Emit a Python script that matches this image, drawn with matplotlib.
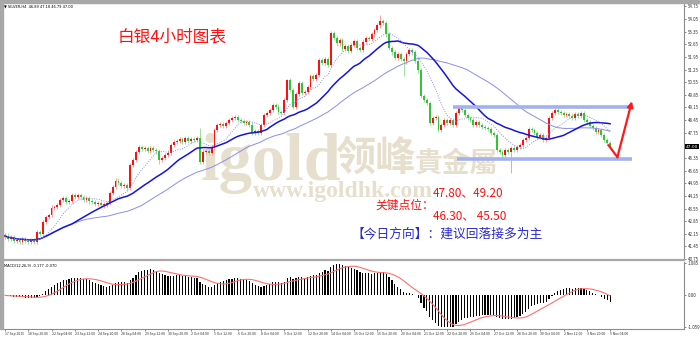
import numpy as np
import pandas as pd
import matplotlib
matplotlib.use("Agg")
import matplotlib.pyplot as plt
from matplotlib.patches import Rectangle

plt.rcParams['font.family'] = ['Noto Sans CJK SC', 'DejaVu Sans']

# 4-hour closes (open = previous close)
closes = [
    42.05, 41.85, 41.95, 41.75, 41.80, 41.70, 41.85, 41.75, 41.70, 41.80, 41.72,
    42.25, 42.15, 42.80, 43.10, 43.20, 43.60, 43.65, 43.75, 44.02, 44.13, 43.90, 43.98, 44.30, 44.20, 44.32,
    44.20, 44.05, 44.15, 43.95, 43.90, 43.80, 43.85, 43.72, 43.78, 43.85, 44.40, 44.75, 45.10, 44.95, 44.80, 44.85, 44.70,
    45.95, 46.24, 46.70, 46.96, 46.85, 46.90, 46.75, 46.88, 46.80, 46.72, 46.24, 46.35, 46.51, 46.65, 47.07, 47.24, 47.30,
    47.40, 47.22, 47.45, 47.30, 47.38, 47.35, 47.46, 46.13, 46.69, 46.75, 46.62, 46.95, 47.90, 48.18, 48.25, 48.15, 48.30, 48.46, 48.57,
    48.62, 48.45, 48.40, 48.30, 48.35, 48.20, 47.74, 47.85, 47.74, 48.18, 48.74, 48.85, 49.01, 49.29, 49.20, 48.90, 48.85,
    49.57, 50.68, 50.12, 49.20, 49.90, 50.50, 49.95, 50.00, 50.30, 50.90, 50.75, 50.95, 51.78, 51.60, 51.85, 51.50,
    53.28, 53.00, 52.70, 52.90, 52.40, 52.55, 52.30, 52.60, 52.85, 52.45, 52.35, 52.80, 53.00, 52.95, 53.20, 53.45, 53.70, 53.95, 53.85,
    53.20, 52.45, 52.20, 51.90, 52.10, 51.85, 51.70, 52.10, 52.35, 52.20, 51.75, 51.20, 49.80, 49.55, 49.40,
    48.29, 48.57, 48.62, 47.91, 48.18, 48.46, 48.29, 48.46, 48.18, 48.85, 49.12, 49.01, 48.74, 48.57, 48.46, 48.18, 48.35, 48.18, 48.07, 48.02, 47.95,
    47.74, 47.63, 46.80, 46.69, 46.52, 46.80, 46.69, 46.91, 46.80, 46.96, 47.07, 47.35, 47.46, 47.96, 47.91, 47.74, 47.52, 47.63, 47.35, 47.46, 48.57,
    48.85, 49.01, 48.90, 48.85, 48.74, 48.79, 48.70, 48.57, 48.79, 48.68, 48.85, 48.46, 48.35, 48.13, 48.02, 47.79, 47.91, 47.63, 47.35, 47.18, 47.00,
]
first_open = 42.00
# long shadows that stand out
long_highs = {67: 48.02, 97: 50.75, 112: 53.40, 129: 54.28, 190: 49.23}
long_lows = {53: 46.00, 137: 50.90, 174: 45.52}
wick = 0.12

date_labels = ['17 Sep 2015', '18 Sep 20:00', '22 Sep 04:00', '23 Sep 12:00', '24 Sep 20:00', '28 Sep 04:00',
               '29 Sep 12:00', '30 Sep 20:00', '2 Oct 04:00', '5 Oct 12:00', '6 Oct 20:00', '8 Oct 04:00',
               '9 Oct 12:00', '12 Oct 20:00', '14 Oct 04:00', '15 Oct 12:00', '16 Oct 20:00', '20 Oct 04:00',
               '21 Oct 12:00', '22 Oct 20:00', '26 Oct 04:00', '27 Oct 12:00', '28 Oct 20:00', '30 Oct 04:00',
               '2 Nov 12:00', '3 Nov 20:00', '5 Nov 04:00']
price_ticks = [54.75, 54.05, 53.35, 52.65, 51.95, 51.25, 50.55, 49.85, 49.15, 48.45, 47.75,
               46.35, 45.65, 44.95, 44.25, 43.55, 42.85, 42.15, 41.45, 40.75]
last_price = '47.00'
macd_ticks = [1.085, 0.0, -1.059]
macd_labels = ['1.085', '0.00', '-1.059']

levels = [49.20, 46.30]
level_start = [154, 155.5]
level_end = 215.5
arrow_bars = [207.5, 210.5, 215.5]
arrow_prices = [47.05, 46.40, 49.50]

# ---- derived series ----
c = np.array(closes)
o = np.concatenate([[first_open], c[:-1]])
n = len(c)
idx = np.arange(n)
hi = np.maximum(o, c) + wick
lo = np.minimum(o, c) - wick
for k, v in long_highs.items():
    hi[k] = v
for k, v in long_lows.items():
    lo[k] = v
s = pd.Series(c)
ma_fast = s.rolling(10, min_periods=1).mean()
ma_mid = s.rolling(24, min_periods=1).mean()
ma_slow = s.rolling(48, min_periods=1).mean()
macd = s.ewm(span=12, adjust=False).mean() - s.ewm(span=26, adjust=False).mean()
signal = macd.rolling(9, min_periods=1).mean()


def fx(px):
    return px / 700


def fy(py):
    return 1 - py / 338


fig = plt.figure(figsize=(7, 3.38), dpi=100)
fig.patch.set_facecolor('white')
fig.patches.append(Rectangle((0, fy(3)), 1, 3 / 338, transform=fig.transFigure, color='#a8a8a8', zorder=0))
fig.patches.append(Rectangle((0, fy(329)), 3 / 700, 326 / 338, transform=fig.transFigure, color='#a8a8a8', zorder=0))

ax = fig.add_axes([fx(3), fy(260), 681 / 700, 257 / 338])
ax2 = fig.add_axes([fx(3), fy(329), 681 / 700, 67 / 338])

# watermark behind the candles
wm = '#e6dfcd'
ax.text(fx(200), fy(180), 'igold', transform=fig.transFigure, fontsize=48, family='Liberation Serif',
        weight='bold', color=wm, va='baseline', ha='left', zorder=0)
ax.text(fx(253), fy(197), 'www.igoldhk.com', transform=fig.transFigure, fontsize=17, family='Liberation Serif',
        weight='bold', color=wm, va='baseline', ha='left', zorder=0)
ax.text(fx(376), fy(158), '领峰', transform=fig.transFigure, fontsize=29, family='Noto Sans CJK SC',
        weight='bold', color=wm, va='center', ha='center', zorder=0)
ax.text(fx(415), fy(164), '貴金屬', transform=fig.transFigure, fontsize=20, family='Noto Sans CJK TC',
        weight='bold', color=wm, va='center', ha='left', zorder=0)

# candles
up = c >= o
ax.vlines(idx, lo, hi, colors=np.where(up, '#ff8c8c', '#8fd88f'), linewidth=0.6, zorder=2)
body = np.where(np.abs(c - o) < 0.02, 0.02, c - o)
ax.bar(idx, body, bottom=o, width=0.65, color=np.where(up, '#ff1010', '#33c433'), linewidth=0, zorder=3)

ax.plot(idx, ma_slow, color='#8c8cf2', linewidth=0.7, zorder=4)
ax.plot(idx, ma_mid, color='#1414e0', linewidth=1.1, zorder=4)
ax.plot(idx, ma_fast, color='#8c8cf2', linewidth=0.7, linestyle=(0, (1, 1.5)), zorder=4)

for lv, st in zip(levels, level_start):
    ax.plot([st, level_end], [lv, lv], color='#a3b1f0', linewidth=2.6, solid_capstyle='butt', zorder=5)
ax.plot(arrow_bars[:2], arrow_prices[:2], color='#ff1a1a', linewidth=1.6, zorder=6)
ax.annotate('', xy=(arrow_bars[2], arrow_prices[2]), xytext=(arrow_bars[1], arrow_prices[1]),
            arrowprops=dict(arrowstyle='-|>', color='#ff1a1a', lw=1.6, mutation_scale=8,
                            shrinkA=0, shrinkB=0), zorder=6)

ax.set_xlim(-0.69, 233.4)
ax.set_ylim(40.70, 54.94)
ax.set_xticks([])
ax.yaxis.tick_right()
ax.set_yticks(price_ticks)
ax.set_yticklabels([f'{t:.2f}' for t in price_ticks])
ax.tick_params(axis='y', labelsize=3.2, length=1.5, width=0.4, pad=1, colors='#303030')
for side in ['top', 'left']:
    ax.spines[side].set_visible(False)
ax.spines['right'].set_color('#8c8c8c')
ax.spines['right'].set_linewidth(0.8)
ax.spines['bottom'].set_color('#a8a8a8')
ax.spines['bottom'].set_linewidth(1.6)

# MACD panel
ax2.bar(idx, macd, width=0.4, color='black', linewidth=0, zorder=2)
ax2.plot(idx, signal, color='#ff7070', linewidth=0.8, zorder=3)
ax2.set_xlim(-0.69, 233.4)
ax2.set_ylim(-1.126, 1.12)
ax2.yaxis.tick_right()
ax2.set_yticks(macd_ticks)
ax2.set_yticklabels(macd_labels)
ax2.tick_params(axis='y', labelsize=3.2, length=1.5, width=0.4, pad=1, colors='#303030')
ax2.set_xticks(idx[::8][:len(date_labels)])
ax2.set_xticklabels(date_labels, ha='left')
ax2.tick_params(axis='x', labelsize=2.5, length=1.5, width=0.4, pad=0.8, colors='#303030')
for side in ['top', 'left']:
    ax2.spines[side].set_visible(False)
ax2.spines['right'].set_color('#8c8c8c')
ax2.spines['right'].set_linewidth(0.8)
ax2.spines['bottom'].set_color('#8c8c8c')
ax2.spines['bottom'].set_linewidth(0.8)

# small info texts
fig.text(fx(4), fy(7), '\u25bc SILVER,H4  46.89 47.18 46.79 47.00', fontsize=2.6, color='black',
         va='center', ha='left', family='DejaVu Sans')
fig.text(fx(4), fy(266), 'MACD(12,26,9) -0.177 -0.070', fontsize=2.6, color='black',
         va='center', ha='left', family='DejaVu Sans')
fig.text(fx(686), fy(146.5), last_price, fontsize=3.2, color='white', va='center', ha='left',
         family='DejaVu Sans', bbox=dict(facecolor='black', edgecolor='none', pad=0.6))

# annotations
fig.text(fx(118), fy(36.5), '白银4小时图表', fontsize=12, color='#ff1010', va='center', ha='left')
fig.text(fx(433), fy(193), '47.80、49.20', fontsize=8.5, color='#ff1010', va='center', ha='left')
fig.text(fx(375), fy(205), '关键点位：', fontsize=8.5, color='#ff1010', va='center', ha='left')
fig.text(fx(433), fy(216), '46.30、 45.50', fontsize=8.5, color='#ff1010', va='center', ha='left')
fig.text(fx(352), fy(234), '【今日方向】：建议回落接多为主', fontsize=9.2, color='#2a2ad0', va='center', ha='left')

fig.savefig('out.png', dpi=100)
